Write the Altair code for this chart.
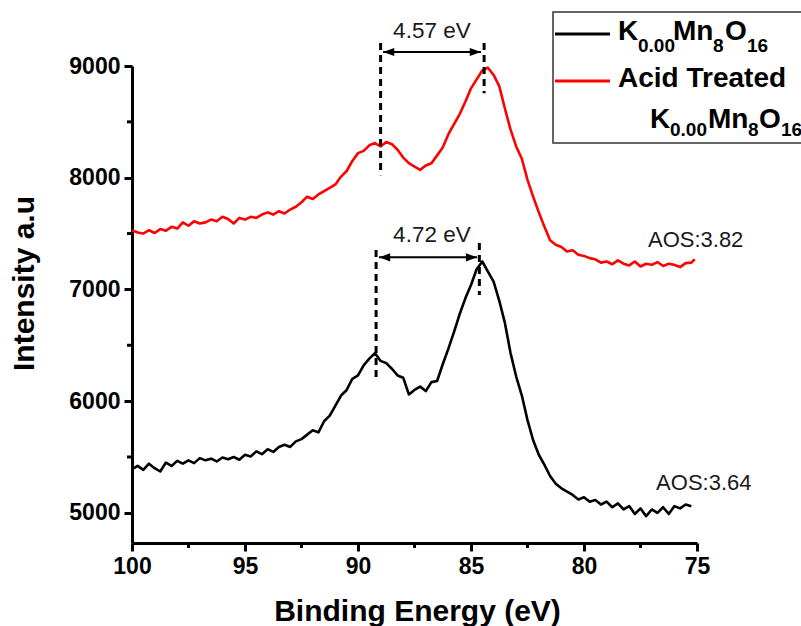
import altair as alt
import pandas as pd

# ---------------- data ----------------
energy = [
    100.0, 99.75, 99.5, 99.25, 99.0, 98.75, 98.5, 98.25, 98.0, 97.75,
    97.5, 97.25, 97.0, 96.75, 96.5, 96.25, 96.0, 95.75, 95.5, 95.25,
    95.0, 94.75, 94.5, 94.25, 94.0, 93.75, 93.5, 93.25, 93.0, 92.75,
    92.5, 92.25, 92.0, 91.75, 91.5, 91.25, 91.0, 90.75, 90.5, 90.25,
    90.0, 89.75, 89.5, 89.25, 89.0, 88.75, 88.5, 88.25, 88.0, 87.75,
    87.5, 87.25, 87.0, 86.75, 86.5, 86.25, 86.0, 85.75, 85.5, 85.25,
    85.0, 84.75, 84.5, 84.25, 84.0, 83.75, 83.5, 83.25, 83.0, 82.75,
    82.5, 82.25, 82.0, 81.75, 81.5, 81.25, 81.0, 80.75, 80.5, 80.25,
    80.0, 79.75, 79.5, 79.25, 79.0, 78.75, 78.5, 78.25, 78.0, 77.75,
    77.5, 77.25, 77.0, 76.75, 76.5, 76.25, 76.0, 75.75, 75.5, 75.25,
]

black_intensity = [
    5390, 5420, 5385, 5440, 5400, 5370, 5450, 5420, 5465, 5440,
    5470, 5445, 5490, 5470, 5485, 5460, 5495, 5480, 5500, 5475,
    5520, 5505, 5550, 5525, 5570, 5545, 5590, 5610, 5590, 5640,
    5660, 5700, 5740, 5720, 5820, 5870, 5960, 6050, 6100, 6200,
    6230, 6320, 6380, 6430, 6360, 6340, 6290, 6230, 6210, 6060,
    6100, 6130, 6090, 6170, 6180, 6330, 6470, 6620, 6780, 6920,
    7040, 7180, 7250, 7160, 7070, 6900, 6700, 6430, 6220, 6050,
    5830, 5650, 5520, 5430, 5330, 5260, 5220, 5190, 5160, 5120,
    5140, 5100, 5115, 5075, 5100, 5050, 5085, 5030, 5060, 4990,
    5040, 4970, 5030, 5000, 5050, 4990, 5060, 5040, 5075, 5060,
]

red_energy = energy + [75.1]
red_intensity = [
    7530, 7510, 7500, 7530, 7505, 7540, 7525, 7560, 7545, 7600,
    7570, 7610, 7590, 7600, 7625, 7610, 7650, 7630, 7590, 7640,
    7625, 7650, 7640, 7670, 7690, 7670, 7700, 7680, 7715, 7740,
    7780, 7830, 7810, 7850, 7880, 7910, 7940, 8010, 8060, 8150,
    8220, 8240, 8290, 8310, 8280, 8320, 8300, 8250, 8180, 8130,
    8100, 8070, 8110, 8130, 8200, 8270, 8390, 8480, 8570, 8680,
    8800, 8880, 8960, 8985, 8920, 8820, 8620, 8430, 8280, 8170,
    7980, 7830, 7690, 7560, 7440, 7400, 7380, 7340, 7350, 7310,
    7300, 7280, 7270, 7240, 7250, 7225, 7260, 7230, 7215, 7250,
    7205, 7230, 7220, 7245, 7210, 7230, 7220, 7200, 7235, 7240, 7270,
]

series_names = ["K0.00Mn8O16", "Acid Treated K0.00Mn8O16"]

x_ticks = [100, 95, 90, 85, 80, 75]
x_minor = [97.5, 92.5, 87.5, 82.5, 77.5]
y_ticks = [5000, 6000, 7000, 8000, 9000]
y_minor = [5500, 6500, 7500, 8500]

# peak-separation annotations (energy, intensity)
dash_E = [89.0, 84.42, 89.2, 84.63]
dash_top = [9206, 9206, 7352, 7415]
dash_bottom = [8023, 8757, 6190, 6950]
arrow_left_E = [88.89, 89.07]
arrow_right_E = [84.56, 84.73]
arrow_I = [9125, 7287]
sep_labels = ["4.57 eV", "4.72 eV"]
sep_label_E = [86.73, 86.73]
sep_label_I = [9250, 7424]
aos_labels = ["AOS:3.82", "AOS:3.64"]
aos_E = [77.17, 76.81]
aos_I = [7379, 5206]

# ---------------- tables ----------------
curves = pd.concat([
    pd.DataFrame({"E": energy, "I": black_intensity, "s": series_names[0]}),
    pd.DataFrame({"E": red_energy, "I": red_intensity, "s": series_names[1]}),
])
dashes = pd.DataFrame({"E": dash_E, "I": dash_top, "I2": dash_bottom})
arrows = pd.DataFrame({"E": arrow_left_E, "E2": arrow_right_E, "I": arrow_I})
heads_l = pd.DataFrame({"E": arrow_left_E, "I": arrow_I})
heads_r = pd.DataFrame({"E": arrow_right_E, "I": arrow_I})
seps = pd.DataFrame({"E": sep_label_E, "I": sep_label_I, "t": sep_labels})
aos = pd.DataFrame({"E": aos_E, "I": aos_I, "t": aos_labels})
xminor_df = pd.DataFrame({"E": x_minor})
yminor_df = pd.DataFrame({"I": y_minor})

W, H = 565, 477
FONT = "Liberation Sans"

xscale = alt.Scale(domain=[75, 100], reverse=True, nice=False, zero=False)
yscale = alt.Scale(domain=[4730, 9000], nice=False, zero=False)
xaxis = alt.Axis(values=x_ticks, format="d", title="Binding Energy (eV)",
                 grid=False, labelFlush=False, titleX=285, titleY=77,
                 titleBaseline="alphabetic", titleAnchor="middle")
yaxis = alt.Axis(values=y_ticks, format="d", title="Intensity a.u",
                 grid=False, labelFlush=False, titleX=-99, titleY=217,
                 titleBaseline="alphabetic", titleAngle=270, titleAnchor="middle")


def X(f="E"):
    return alt.X(f"{f}:Q", scale=xscale, axis=xaxis)


def Y(f="I"):
    return alt.Y(f"{f}:Q", scale=yscale, axis=yaxis)


lines = alt.Chart(curves).mark_line(strokeWidth=2.6, strokeJoin="round").encode(
    x=X(), y=Y(),
    color=alt.Color("s:N", scale=alt.Scale(domain=series_names, range=["#000000", "#ff0000"]),
                    legend=None),
    detail="s:N",
)

dash_layer = alt.Chart(dashes).mark_rule(strokeWidth=3, strokeDash=[7, 5], color="black").encode(
    x=X(), y=Y(), y2="I2:Q")
arrow_layer = alt.Chart(arrows).mark_rule(strokeWidth=2, color="black").encode(
    x=X(), x2="E2:Q", y=Y())
head_l = alt.Chart(heads_l).mark_point(shape="M0,0L1,-0.36L1,0.36Z", filled=True, opacity=1,
                                       size=500, color="black").encode(x=X(), y=Y())
head_r = alt.Chart(heads_r).mark_point(shape="M0,0L-1,-0.36L-1,0.36Z", filled=True, opacity=1,
                                       size=500, color="black").encode(x=X(), y=Y())
sep_text = alt.Chart(seps).mark_text(font=FONT, fontSize=22.5, align="center",
                                     baseline="alphabetic", color="#1a1a1a").encode(
    x=X(), y=Y(), text="t:N")
aos_text = alt.Chart(aos).mark_text(font=FONT, fontSize=22, align="left",
                                    baseline="alphabetic", color="#1a1a1a").encode(
    x=X(), y=Y(), text="t:N")

xminor = alt.Chart(xminor_df).mark_rule(strokeWidth=3, color="black").encode(
    x=X(), y=alt.value(H), y2=alt.value(H + 5))
yminor = alt.Chart(yminor_df).mark_rule(strokeWidth=3, color="black").encode(
    y=Y(), x=alt.value(0), x2=alt.value(-5))

one = alt.Data(values=[{"a": 1}])
legend_box = alt.Chart(one).mark_rect(fill="white", stroke="#333333", strokeWidth=1.5).encode(
    x=alt.value(421), x2=alt.value(690), y=alt.value(-54), y2=alt.value(77))
leg_black = alt.Chart(one).mark_rule(color="black", strokeWidth=3).encode(
    x=alt.value(423), x2=alt.value(478), y=alt.value(-32))
leg_red = alt.Chart(one).mark_rule(color="#ff0000", strokeWidth=3).encode(
    x=alt.value(423), x2=alt.value(478), y=alt.value(15))

# legend label pieces (text, x, baseline y, subscript?)
pieces = [
    ("K", 486, -26, False), ("0.00", 506, -14, True), ("Mn", 541, -26, False),
    ("8", 581, -14, True), ("O", 593, -26, False), ("16", 615, -14, True),
    ("Acid Treated", 486, 21, False),
    ("K", 518, 62, False), ("0.00", 538, 70, True), ("Mn", 576, 62, False),
    ("8", 616, 70, True), ("O", 627, 62, False), ("16", 649, 70, True),
]
legend_text = []
for t, px, py, sub in pieces:
    legend_text.append(
        alt.Chart(one).mark_text(text=t, font=FONT, fontWeight="bold",
                                 fontSize=19 if sub else 28, align="left",
                                 baseline="alphabetic", color="black").encode(
            x=alt.value(px), y=alt.value(py))
    )

chart = alt.layer(
    lines, dash_layer, arrow_layer, head_l, head_r, sep_text, aos_text,
    xminor, yminor, legend_box, leg_black, leg_red, *legend_text,
).properties(
    width=W, height=H,
    autosize=alt.AutoSizeParams(type="none"),
    padding={"left": 132, "top": 66, "right": 104, "bottom": 83},
    background="white",
).configure_view(strokeWidth=0).configure_axis(
    domainColor="black", domainWidth=3, tickColor="black", tickWidth=3, tickSize=8,
    labelFont=FONT, labelFontWeight="bold", labelFontSize=23, labelColor="black",
    labelPadding=4, titleFont=FONT, titleFontWeight="bold", titleFontSize=30,
    titleColor="black",
)

chart.save("out.html", embed_options={"renderer": "svg", "actions": False})
